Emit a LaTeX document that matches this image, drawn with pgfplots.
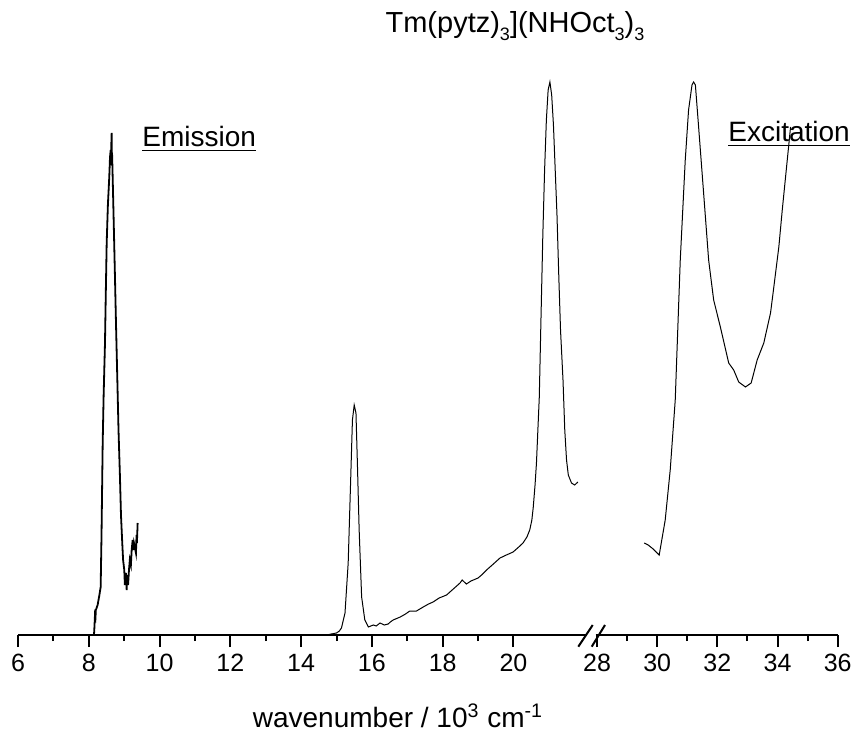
\documentclass[border=0pt]{standalone}
\usepackage{pgfplots}
\pgfplotsset{compat=1.18}
\usepackage{fontspec}
\setmainfont{Liberation Sans}
\newcommand{\sub}[1]{\raisebox{-4pt}{\fontsize{9}{9}\selectfont #1}}
\begin{document}
\begin{tikzpicture}
\path[use as bounding box] (-9pt,-49.5pt) rectangle (419pt,317.5pt);
\pgfplotsset{brk/.style={scale only axis, height=300pt, ymin=0, ymax=600,
  axis y line=none, axis x line*=bottom,
  x axis line style={line width=1pt},
  xtick align=outside, major tick length=6pt, minor tick length=3pt,
  every tick/.style={line width=1pt, black}, minor tick num=1,
  tick label style={font=\fontsize{12.5}{14}\selectfont},
  /pgf/number format/assume math mode=true, clip=false}}
\begin{axis}[brk, at={(0,0)}, anchor=south west, width=284pt,
  xmin=6, xmax=22.05, xtick={6,8,...,20}]
\addplot[black, line width=0.9pt] coordinates {
(8.147,0) (8.16,8) (8.175,20) (8.19,18) (8.20,25) (8.25,30) (8.28,36) (8.30,40) (8.336,48) (8.36,100)
(8.393,192) (8.42,240) (8.458,292) (8.48,340) (8.506,392) (8.54,430) (8.579,458)
(8.60,478) (8.619,485) (8.63,470) (8.64,495) (8.647,502) (8.655,470) (8.66,480) (8.675,458)
(8.70,420) (8.740,358) (8.77,310) (8.805,258) (8.84,205) (8.881,158) (8.91,120)
(8.946,92) (8.97,75) (9.003,65) (9.02,50) (9.03,55) (9.05,62) (9.071,45) (9.08,60) (9.09,58) (9.11,50)
(9.136,65) (9.16,75) (9.19,70) (9.212,85) (9.24,95) (9.26,85) (9.277,92) (9.30,88) (9.333,82)
(9.35,100) (9.36,92) (9.381,112)};
\addplot[black, line width=0.5pt] coordinates {
(14.72,0) (14.85,1) (15.0,2) (15.08,4) (15.14,7) (15.24,22) (15.33,72) (15.40,155)
(15.45,215) (15.50,230) (15.55,222) (15.59,172) (15.64,105) (15.71,38) (15.80,15)
(15.90,8) (16.04,10) (16.12,9) (16.23,12) (16.35,10) (16.46,11) (16.52,13) (16.60,15)
(16.8,18) (16.95,21) (17.07,24) (17.26,24) (17.45,28) (17.6,31) (17.73,33) (17.9,37)
(18.11,40) (18.3,46) (18.49,52) (18.55,55) (18.67,51) (18.8,54) (19.00,57) (19.1,60)
(19.24,65) (19.4,70) (19.62,77) (19.8,80) (19.99,83) (20.15,88) (20.27,92) (20.38,98)
(20.46,105) (20.52,115) (20.56,128) (20.61,150) (20.65,172) (20.69,205) (20.73,238)
(20.78,320) (20.83,400) (20.88,465) (20.93,515) (20.98,545) (21.03,553) (21.08,540)
(21.13,510) (21.18,465) (21.23,420) (21.28,360) (21.33,305) (21.40,255) (21.45,205)
(21.50,175) (21.55,160) (21.64,152) (21.73,150) (21.82,153)};
\end{axis}
\begin{axis}[brk, at={(288.75pt,0)}, anchor=south west, width=121.1pt,
  xmin=27.95, xmax=36, xtick={28,30,...,36}]
\addplot[black, line width=0.5pt] coordinates {
(29.567,92) (29.70,90) (29.867,86) (30.067,80) (30.267,115) (30.433,165) (30.6,235)
(30.767,375) (30.933,475) (31.043,525) (31.157,550) (31.21,553) (31.27,550)
(31.377,508) (31.543,442) (31.71,375) (31.877,335) (32.1,308) (32.377,272)
(32.543,265) (32.71,253) (32.933,248) (33.123,252) (33.323,275) (33.543,292)
(33.767,322) (33.877,348) (34.043,388) (34.157,425) (34.323,475) (34.433,508)};
\end{axis}
\draw[line width=1pt] (280.15pt,-5.85pt) -- (287.35pt,5pt);
\draw[line width=1pt] (286.85pt,-5.85pt) -- (293.5pt,5pt);
\node[font=\fontsize{14}{16}\selectfont] at (190pt,-40.5pt) {wavenumber / 10\textsuperscript{3} cm\textsuperscript{-1}};
\node[font=\fontsize{14.5}{16}\selectfont] at (248.5pt,304.5pt) {Tm(pytz)\sub{3}](NHOct\sub{3})\sub{3}};
\node[font=\fontsize{14}{16}\selectfont, anchor=base west, inner sep=0pt] at (62pt,244pt) {\underline{Emission}};
\node[font=\fontsize{14}{16}\selectfont, anchor=base west, inner sep=0pt] at (355pt,246.5pt) {\underline{Excitation}};
\end{tikzpicture}
\end{document}
